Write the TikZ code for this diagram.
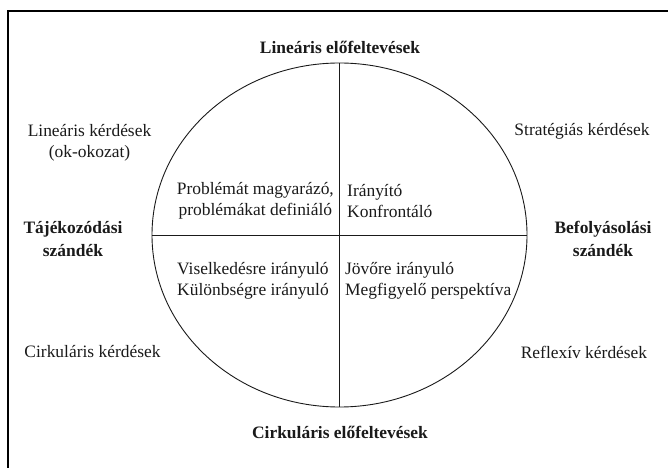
\documentclass[tikz,border=0pt]{standalone}
\usepackage{fontspec}
\setmainfont{Liberation Serif}
\usepackage{xcolor}
\usepackage{tikz}
\usetikzlibrary{positioning,shapes.geometric}
\definecolor{ink}{HTML}{1A1A1A}
\definecolor{frame}{HTML}{000000}

\begin{document}
\begin{tikzpicture}[
  x=1bp, y=-1bp,
  font=\fontsize{17.5}{21}\selectfont,
  lbl/.style={inner sep=0pt, align=center, text=ink},
  head/.style={lbl, font=\fontsize{17.5}{23}\selectfont\bfseries},
  quad/.style={inner sep=0pt, align=left, anchor=west, text=ink},
  axis/.style={draw=ink, line width=0.9bp}
]
\useasboundingbox (0,0) rectangle (668,468);
\draw[frame, line width=1.6bp] (8,468) -- (8,11) -- (668,11);

% ellipse with the two axes
\node[ellipse, axis, inner sep=0pt, minimum width=375bp, minimum height=344bp] (circ) at (339.5,235) {};
\draw[axis] (circ.north) -- (circ.south);
\draw[axis] (circ.west) -- (circ.east);

\node[head] (lin) at (340,47) {Lineáris előfeltevések};
\node[head] (cirk) at (340,432) {Cirkuláris előfeltevések};
\node[head] (taj) at (73,239) {Tájékozódási\\szándék};
\node[head] (bef) at (603,239) {Befolyásolási\\szándék};

\node[lbl] (link) at (89.5,142.5) {Lineáris kérdések\\(ok-okozat)};
\node[lbl] (cirkk) at (92.5,352) {Cirkuláris kérdések};
\node[lbl] (strat) at (582,131) {Stratégiás kérdések};
\node[lbl] (refl) at (584,352) {Reflexív kérdések};

\node[lbl, anchor=east] (prob) at (334,200.5) {Problémát magyarázó,\\problémákat definiáló};
\node[quad] (iran) at (347,201) {Irányító\\Konfrontáló};
\node[quad] (visel) at (177,281) {Viselkedésre irányuló\\Különbségre irányuló};
\node[quad] (jovo) at (345,281) {Jövőre irányuló\\Megfigyelő perspektíva};
\end{tikzpicture}
\end{document}
